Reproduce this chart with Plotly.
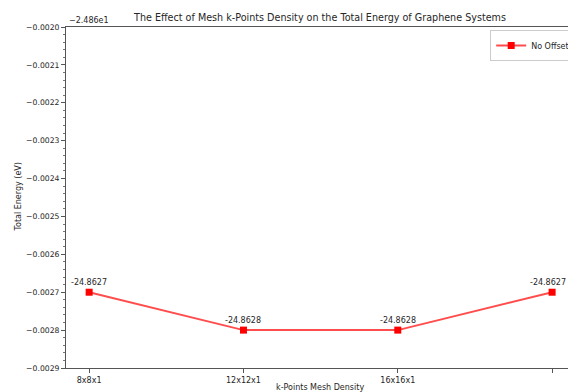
import plotly.graph_objects as go

# k-point mesh sizes and the total energy obtained for each (eV)
meshes = ["8x8x1", "12x12x1", "16x16x1", "20x20x1"]
energies = [-24.8627, -24.8628, -24.8628, -24.8627]

# y-axis is shown relative to an offset of -24.86 eV
y_offset = -24.86
y_offset_label = "\u22122.486e1"
y_tick_labels = ["\u22120.0020", "\u22120.0021", "\u22120.0022", "\u22120.0023", "\u22120.0024",
                 "\u22120.0025", "\u22120.0026", "\u22120.0027", "\u22120.0028", "\u22120.0029"]
y_tick_offsets = [-0.0020, -0.0021, -0.0022, -0.0023, -0.0024,
                  -0.0025, -0.0026, -0.0027, -0.0028, -0.0029]

FONT = "DejaVu Sans"
INK = "#262626"

x_pos = list(range(len(meshes)))

fig = go.Figure()
fig.add_trace(go.Scatter(
    x=x_pos,
    y=energies,
    mode="lines+markers",
    name="No Offset",
    line=dict(color="rgba(255,0,0,0.7)", width=2),
    marker=dict(symbol="square", size=7, color="#ff0000"),
))

# value labels above each point; the last one is nudged so it stays inside the page
for i, e in zip(x_pos, energies):
    fig.add_annotation(
        x=i, y=e, text=f"{e:.4f}", showarrow=False,
        xanchor="center", yanchor="middle", yshift=10,
        xshift=-4 if i == x_pos[-1] else 0,
        font=dict(family=FONT, size=8, color=INK),
    )

fig.update_layout(
    width=568,
    height=392,
    margin=dict(l=66, r=0, t=27, b=24, autoexpand=False),
    paper_bgcolor="white",
    plot_bgcolor="white",
    font=dict(family=FONT, size=8, color=INK),
    title=dict(
        text="The Effect of Mesh k-Points Density on the Total Energy of Graphene Systems",
        x=320 / 568, xref="container", xanchor="center",
        y=1 - 18 / 392, yref="container", yanchor="middle",
        font=dict(family=FONT, size=9.6, color=INK),
    ),
    showlegend=True,
    legend=dict(
        x=0.845, xanchor="left", y=0.991, yanchor="top",
        bgcolor="white", bordercolor="#cccccc", borderwidth=1,
        itemwidth=30,
        font=dict(family=FONT, size=8, color=INK),
    ),
    xaxis=dict(
        range=[-0.15, 3.103],
        tickmode="array",
        tickvals=x_pos,
        ticktext=meshes,
        showgrid=False, zeroline=False,
        showline=True, linecolor="#555555", linewidth=1, mirror=True,
        ticks="outside", ticklen=4, tickcolor="#555555",
        tickfont=dict(family=FONT, size=8, color=INK),
    ),
    yaxis=dict(
        range=[y_offset - 0.0029, y_offset - 0.0020],
        tickmode="array",
        tickvals=[y_offset + t for t in y_tick_offsets],
        ticktext=y_tick_labels,
        showgrid=False, zeroline=False,
        showline=True, linecolor="#555555", linewidth=1,
        ticks="outside", ticklen=4, tickcolor="#555555",
        tickfont=dict(family=FONT, size=7.7, color=INK),
        minor=dict(tickmode="linear", tick0=y_offset, dtick=0.00002,
                   ticks="outside", ticklen=2, tickcolor="#777777"),
    ),
)

# offset label above the y-axis
fig.add_annotation(text=y_offset_label, xref="paper", yref="paper", x=0.002, y=1.0,
                   xanchor="left", yanchor="bottom", showarrow=False,
                   font=dict(family=FONT, size=8, color=INK))
# axis titles
fig.add_annotation(text="Total Energy (eV)", xref="paper", yref="paper",
                   x=(18 - 66) / 502, y=0.5, textangle=-90,
                   xanchor="center", yanchor="middle", showarrow=False,
                   font=dict(family=FONT, size=8, color=INK))
fig.add_annotation(text="k-Points Mesh Density", xref="paper", yref="paper",
                   x=(320 - 66) / 502, y=(368 - 387) / 341,
                   xanchor="center", yanchor="middle", showarrow=False,
                   font=dict(family=FONT, size=8, color=INK))

fig.write_html("out.html")
